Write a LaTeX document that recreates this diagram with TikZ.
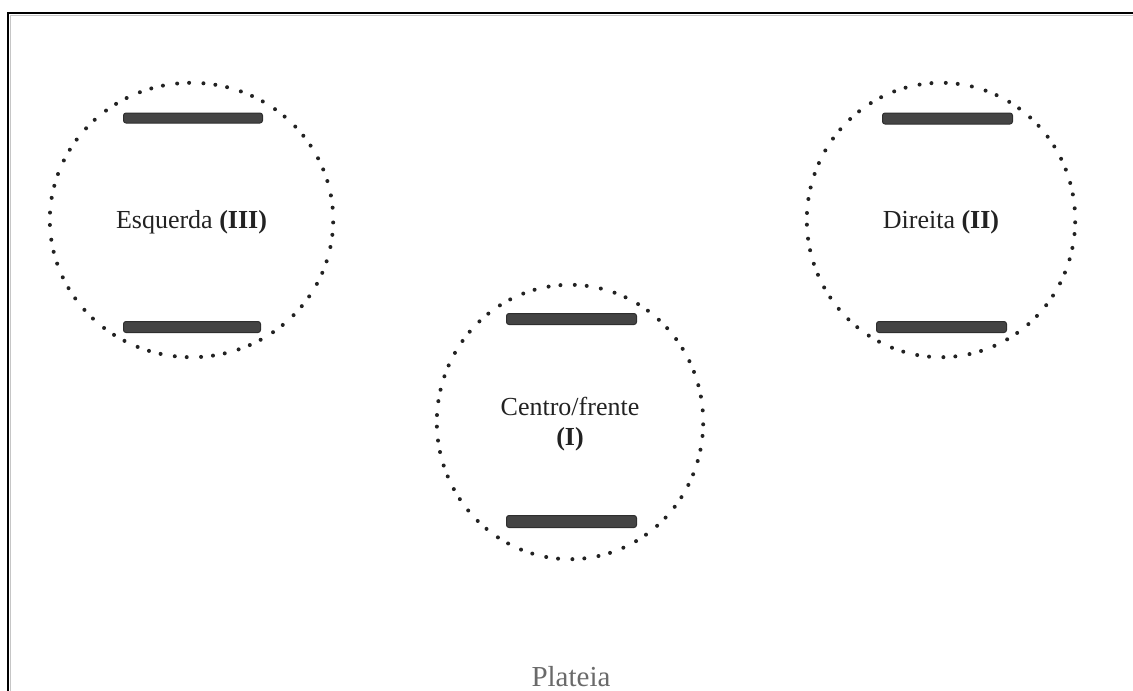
\documentclass[tikz,border=0pt]{standalone}
\usepackage{fontspec}
\setmainfont{Liberation Serif}
\usetikzlibrary{shapes.geometric}
\definecolor{txt}{HTML}{222222}
\definecolor{barfill}{HTML}{444444}
\definecolor{barline}{HTML}{2E2E2E}
\definecolor{dotc}{HTML}{222222}
\definecolor{platc}{HTML}{6A6A6A}
\tikzset{
  zone/.style={ellipse, inner sep=0pt},
  dotmark/.style={fill=dotc},
  bar/.style={rectangle, draw=barline, fill=barfill, line width=1pt,
    rounded corners=2.5pt, inner sep=0pt},
  lbl/.style={text=txt, font=\fontsize{26}{30}\selectfont, align=center, inner sep=0pt},
}
\newcommand{\dotring}[2]{%
  \pgfmathsetmacro{\angstep}{360/#2}%
  \foreach \i in {1,...,#2}{%
    \pgfmathsetmacro{\ang}{\i*\angstep}%
    \fill[dotmark] (#1.\ang) circle (2.0pt);
  }}
\begin{document}
\begin{tikzpicture}[x=1pt,y=-1pt]
\useasboundingbox (0,0) rectangle (1133,691);
% frame
\draw[gray!45, line width=1.2pt] (10.6,691) -- (10.6,15.6) -- (1133,15.6);
\draw[black, line width=2.2pt] (8,691) -- (8,13) -- (1133,13);
% zones
\node[zone, minimum width=283pt, minimum height=274pt] (zl) at (191.5,220) {};
\node[zone, minimum width=268pt, minimum height=274pt] (zr) at (941,220) {};
\node[zone, minimum width=266pt, minimum height=274pt] (zc) at (570,422) {};
\dotring{zl}{67}
\dotring{zr}{65}
\dotring{zc}{65}
% bars
\node[bar, minimum width=139pt, minimum height=10pt] (lt) at (193,118) {};
\node[bar, minimum width=137pt, minimum height=11pt] (lb) at (192,327) {};
\node[bar, minimum width=130pt, minimum height=11pt] (rt) at (947.5,118.5) {};
\node[bar, minimum width=130pt, minimum height=11pt] (rb) at (941.5,327) {};
\node[bar, minimum width=130pt, minimum height=11pt] (ct) at (571.5,319) {};
\node[bar, minimum width=130pt, minimum height=12pt] (cb) at (571.5,521.5) {};
% labels
\node[lbl] (tl) at (zl.center) [yshift=-2pt] {Esquerda \textbf{(III)}};
\node[lbl] (tr) at (zr.center) [yshift=-2pt] {Direita \textbf{(II)}};
\node[lbl] (tc) at (570,424) {Centro/frente\\\textbf{(I)}};
\node[lbl, text=platc, font=\fontsize{29}{32}\selectfont] (pl) at (571,677) {Plateia};
\end{tikzpicture}
\end{document}
